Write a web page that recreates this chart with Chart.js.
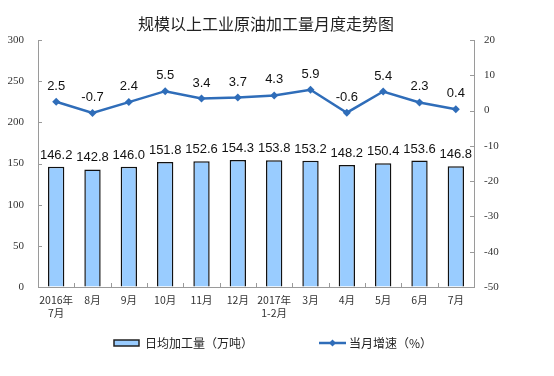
<!DOCTYPE html>
<html>
<head>
<meta charset="utf-8">
<script src="https://cdn.jsdelivr.net/npm/chart.js@4.4.0/dist/chart.umd.min.js"></script>
<style>
  html, body { margin: 0; padding: 0; background: #fff; }
  #wrap { width: 554px; height: 376px; }
</style>
</head>
<body>
<div id="wrap"><canvas id="chart" width="554" height="376"></canvas></div>
<script>
// data
const months = [['2016年','7月'],'8月','9月','10月','11月','12月',['2017年','1-2月'],'3月','4月','5月','6月','7月'];
const dailyOutput = [146.2,142.8,146.0,151.8,152.6,154.3,153.8,153.2,148.2,150.4,153.6,146.8];
const growthRate  = [2.5,-0.7,2.4,5.5,3.4,3.7,4.3,5.9,-0.6,5.4,2.3,0.4];
const outputLabel = '日均加工量（万吨）';
const growthLabel = '当月增速（%）';
const chartTitle  = '规模以上工业原油加工量月度走势图';

const BAR_FILL = '#99CCFF', LINE_COL = '#2F6DB9', AXIS_COL = '#9a9a9a';
const CJK = '"Noto Sans CJK SC", "Noto Sans", sans-serif';

// title sits a little left of the canvas centre in the original
const topTitle = {
  id: 'topTitle',
  afterDraw(chart) {
    const { ctx } = chart;
    ctx.save();
    ctx.font = '16px ' + CJK;
    ctx.fillStyle = '#222'; ctx.textAlign = 'center'; ctx.textBaseline = 'middle';
    ctx.fillText(chartTitle, 266, 24);
    ctx.restore();
  }
};

// small tick marks pointing into the plot, like the original
const innerTicks = {
  id: 'innerTicks',
  afterDraw(chart) {
    const { ctx, chartArea: a, scales } = chart;
    ctx.save();
    ctx.strokeStyle = AXIS_COL; ctx.lineWidth = 1;
    ctx.beginPath();
    scales.y.ticks.forEach((t, i) => { const y = Math.round(scales.y.getPixelForTick(i)) + 0.5; ctx.moveTo(a.left, y); ctx.lineTo(a.left + 4, y); });
    scales.y1.ticks.forEach((t, i) => { const y = Math.round(scales.y1.getPixelForTick(i)) + 0.5; ctx.moveTo(a.right - 4, y); ctx.lineTo(a.right, y); });
    for (let i = 1; i < months.length; i++) {
      const x = Math.round(scales.x.getPixelForValue(i - 0.5)) + 0.5;
      ctx.moveTo(x, a.bottom); ctx.lineTo(x, a.bottom - 4);
    }
    ctx.stroke();
    ctx.restore();
  }
};

// value labels above bars and points
const valueLabels = {
  id: 'valueLabels',
  afterDatasetsDraw(chart) {
    const { ctx } = chart;
    ctx.save();
    ctx.font = '13px "Liberation Sans", Arial, sans-serif';
    ctx.fillStyle = '#111'; ctx.textAlign = 'center'; ctx.textBaseline = 'alphabetic';
    chart.getDatasetMeta(1).data.forEach((bar, i) => {
      ctx.fillText(dailyOutput[i].toFixed(1), bar.x, bar.y - 8);
    });
    chart.getDatasetMeta(0).data.forEach((pt, i) => {
      ctx.fillText(growthRate[i].toFixed(1), pt.x, pt.y - 12);
    });
    ctx.restore();
  }
};

// legend drawn under the axis
const bottomLegend = {
  id: 'bottomLegend',
  afterDraw(chart) {
    const { ctx } = chart;
    const ds = chart.data.datasets;
    const y = 343;
    ctx.save();
    ctx.font = '12px ' + CJK;
    ctx.textBaseline = 'middle';
    // bar swatch
    ctx.fillStyle = BAR_FILL; ctx.fillRect(114, y - 3, 25, 6);
    ctx.strokeStyle = '#222'; ctx.lineWidth = 1.5; ctx.strokeRect(114, y - 3, 25, 6);
    ctx.fillStyle = '#222'; ctx.fillText(ds[1].label, 145, y);
    // line swatch
    ctx.strokeStyle = LINE_COL; ctx.lineWidth = 2.5;
    ctx.beginPath(); ctx.moveTo(319, y); ctx.lineTo(346, y); ctx.stroke();
    ctx.fillStyle = LINE_COL;
    ctx.beginPath(); ctx.moveTo(332.5, y - 3.5); ctx.lineTo(336, y); ctx.lineTo(332.5, y + 3.5); ctx.lineTo(329, y); ctx.closePath(); ctx.fill();
    ctx.fillStyle = '#222'; ctx.fillText(ds[0].label, 349, y);
    ctx.restore();
  }
};

new Chart(document.getElementById('chart'), {
  type: 'bar',
  data: {
    labels: months,
    datasets: [
      {
        type: 'line', label: growthLabel, data: growthRate, yAxisID: 'y1', order: 0,
        borderColor: LINE_COL, backgroundColor: LINE_COL, borderWidth: 2.5, tension: 0,
        pointStyle: 'rectRot', pointRadius: 4, pointBackgroundColor: LINE_COL, pointBorderWidth: 0
      },
      {
        type: 'bar', label: outputLabel, data: dailyOutput, yAxisID: 'y', order: 1,
        backgroundColor: BAR_FILL, borderColor: '#111', borderWidth: 1.5,
        categoryPercentage: 1, barPercentage: 0.45
      }
    ]
  },
  options: {
    responsive: false, animation: false, devicePixelRatio: 1,
    layout: { padding: { left: 0, right: 0, top: 40, bottom: 51 } },
    plugins: {
      legend: { display: false },
      tooltip: { enabled: false },
      title: { display: false }
    },
    scales: {
      x: {
        grid: { drawOnChartArea: false, drawTicks: false },
        border: { display: true, color: AXIS_COL, width: 1 },
        ticks: { color: '#333', font: { family: CJK, size: 10.5 }, padding: 7, maxRotation: 0, autoSkip: false },
        afterFit: s => { s.height = 38; }
      },
      y: {
        position: 'left', min: 0, max: 300,
        grid: { drawOnChartArea: false, drawTicks: false },
        border: { display: true, color: AXIS_COL, width: 1 },
        ticks: { stepSize: 50, color: '#333', font: { family: '"Liberation Serif", "DejaVu Serif", serif', size: 11 }, padding: 14 },
        afterFit: s => { s.width = 38; }
      },
      y1: {
        position: 'right', min: -50, max: 20,
        grid: { drawOnChartArea: false, drawTicks: false },
        border: { display: true, color: AXIS_COL, width: 1 },
        ticks: { stepSize: 10, color: '#333', font: { family: '"Liberation Serif", "DejaVu Serif", serif', size: 11 }, padding: 10 },
        afterFit: s => { s.width = 80; }
      }
    }
  },
  plugins: [topTitle, innerTicks, valueLabels, bottomLegend]
});
</script>
</body>
</html>
